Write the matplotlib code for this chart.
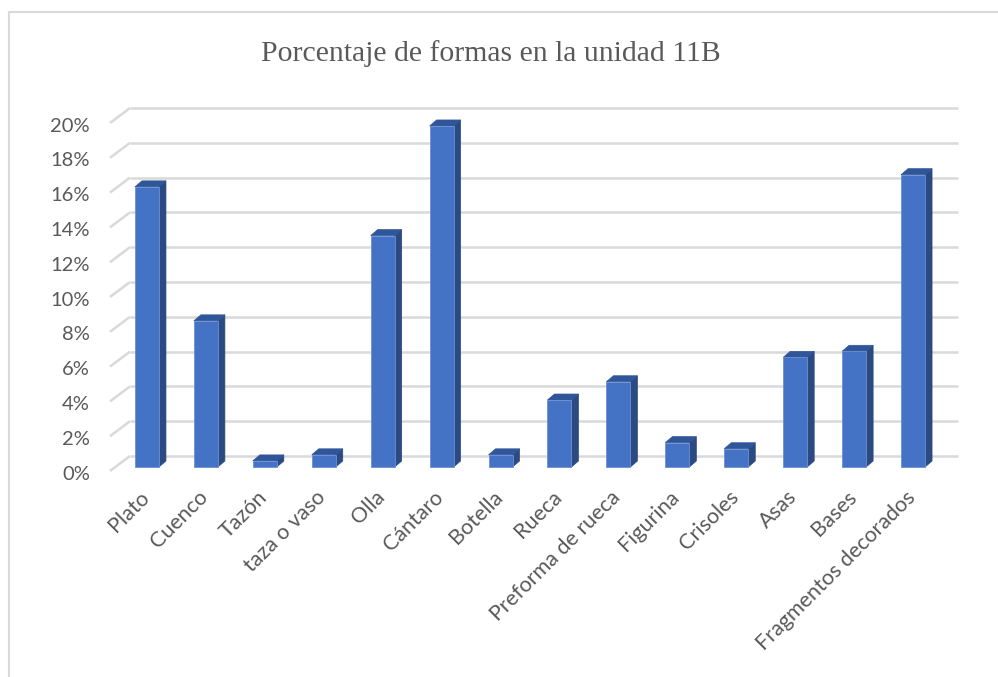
import matplotlib
matplotlib.use("Agg")
import matplotlib.pyplot as plt
from matplotlib.patches import Polygon
import numpy as np

categories = ["Plato", "Cuenco", "Tazón", "taza o vaso", "Olla", "Cántaro",
              "Botella", "Rueca", "Preforma de rueca", "Figurina", "Crisoles",
              "Asas", "Bases", "Fragmentos decorados"]
values = [16.1, 8.4, 0.35, 0.7, 13.3, 19.6, 0.7, 3.85, 4.9, 1.4, 1.05, 6.3, 6.65, 16.8]
tick_values = [0, 2, 4, 6, 8, 10, 12, 14, 16, 18, 20]
tick_labels = [f"{t}%" for t in tick_values]
title = "Porcentaje de formas en la unidad 11B"

W, H, DPI = 998, 677, 100
fig = plt.figure(figsize=(W / DPI, H / DPI), dpi=DPI)
fig.patch.set_facecolor("white")

# axes box in pixels (left, right, bottom, top measured from top of figure)
L_px, R_px, B_px, T_px = 100, 990, 480, 95
ax = fig.add_axes([L_px / W, 1 - B_px / H, (R_px - L_px) / W, (B_px - T_px) / H])

# pixel geometry of the bar plane
slot_px = 58.93
x0_px = 117.5          # left edge of first category slot
y0_px = 467.0          # baseline of the bars
unit_px = 17.4         # pixels per percentage point

def px2x(p):
    return -0.5 + (p - x0_px) / slot_px

def py2y(p):
    return (y0_px - p) / unit_px

ax.set_xlim(px2x(L_px), px2x(R_px))
ax.set_ylim(py2y(B_px), py2y(T_px))
ax.axis("off")

dxp = 1 / slot_px      # data units per pixel, horizontal
dyp = 1 / unit_px      # data units per pixel, vertical

grid_col = "#d9d9d9"
text_col = "#595959"

# back wall gridlines and the floor/side diagonals
back_off = 11 * dyp
xb0, xb1 = px2x(130), px2x(958)
for t in tick_values:
    yb = t + back_off
    ax.plot([xb0, xb1], [yb, yb], color=grid_col, lw=1.8, zorder=1,
            solid_capstyle="butt")
    ax.plot([xb0 - 20 * dxp, xb0], [yb - 15 * dyp, yb], color=grid_col,
            lw=1.8, zorder=1, solid_capstyle="butt")

# y tick labels on the front plane
for t, lab in zip(tick_values, tick_labels):
    ax.text(px2x(90), t + back_off - 18 * dyp, lab, ha="right",
            va="center", fontsize=14.5, color=text_col, family="Lato")

# bars with a little depth
front_col = "#4472c4"
side_col = "#2b4a82"
top_col = "#30569a"
bw = 24 * dxp
ddx, ddy = 7 * dxp, 6 * dyp
xs = np.arange(len(categories))
ax.bar(xs, values, width=bw, color=front_col, edgecolor="#6d8fd2",
       linewidth=0.6, zorder=3)
for x, v in zip(xs, values):
    xr = x + bw / 2
    xl = x - bw / 2
    side = Polygon([(xr, 0), (xr + ddx, ddy), (xr + ddx, v + ddy), (xr, v)],
                   closed=True, facecolor=side_col, edgecolor=side_col,
                   lw=0.5, zorder=2)
    top = Polygon([(xl, v), (xl + ddx, v + ddy), (xr + ddx, v + ddy), (xr, v)],
                  closed=True, facecolor=top_col, edgecolor=top_col,
                  lw=0.5, zorder=2)
    ax.add_patch(side)
    ax.add_patch(top)

# category labels rotated 45 degrees
for x, lab in zip(xs, categories):
    ax.text(x - 1 * dxp, -27 * dyp, lab, rotation=45, rotation_mode="anchor",
            ha="right", va="center", fontsize=15.5, color=text_col,
            family="Lato")

fig.text(490.5 / W, 1 - 54 / H, title, ha="center", va="center",
         fontsize=21.4, color=text_col, family="Liberation Serif")

# chart area border (left and top edges)
fig.add_artist(plt.Line2D([8.5 / W, 8.5 / W], [0, 1 - 11.5 / H],
                          color=grid_col, lw=1.5))
fig.add_artist(plt.Line2D([8.5 / W, 1], [1 - 11.5 / H, 1 - 11.5 / H],
                          color=grid_col, lw=1.5))

fig.savefig("out.png", dpi=DPI, facecolor="white")
